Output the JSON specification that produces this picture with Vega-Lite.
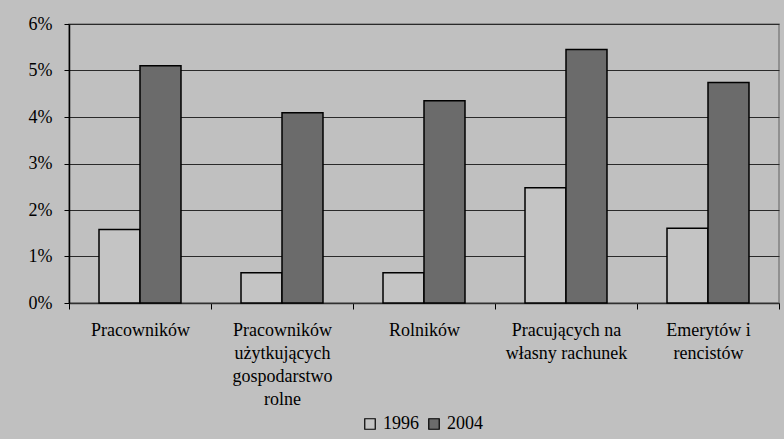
{
  "$schema": "https://vega.github.io/schema/vega-lite/v6.json",
  "width": 710,
  "height": 279,
  "autosize": {"type": "none"},
  "padding": {"left": 69, "top": 24, "right": 5, "bottom": 136},
  "background": "#c0c0c0",
  "data": {
    "values": [
      {"grupa": "Pracowników", "rok": "1996", "udzial": 0.0158},
      {"grupa": "Pracowników", "rok": "2004", "udzial": 0.0510},
      {"grupa": "Pracowników|użytkujących|gospodarstwo|rolne", "rok": "1996", "udzial": 0.0065},
      {"grupa": "Pracowników|użytkujących|gospodarstwo|rolne", "rok": "2004", "udzial": 0.0409},
      {"grupa": "Rolników", "rok": "1996", "udzial": 0.0065},
      {"grupa": "Rolników", "rok": "2004", "udzial": 0.0435},
      {"grupa": "Pracujących na|własny rachunek", "rok": "1996", "udzial": 0.0248},
      {"grupa": "Pracujących na|własny rachunek", "rok": "2004", "udzial": 0.0545},
      {"grupa": "Emerytów i|rencistów", "rok": "1996", "udzial": 0.0161},
      {"grupa": "Emerytów i|rencistów", "rok": "2004", "udzial": 0.0474}
    ]
  },
  "mark": {"type": "bar", "stroke": "black", "strokeWidth": 1.5},
  "encoding": {
    "x": {
      "field": "grupa",
      "type": "nominal",
      "sort": null,
      "scale": {"paddingInner": 0, "paddingOuter": 0},
      "axis": {
        "title": null,
        "labelAngle": 0,
        "labelExpr": "split(datum.label, '|')",
        "labelFontSize": 18,
        "labelColor": "black",
        "labelLineHeight": 23,
        "labelBaseline": "top",
        "labelPadding": 12,
        "labelLimit": 0,
        "tickBand": "extent",
        "tickSize": 6,
        "tickColor": "black",
        "domainColor": "#303030",
        "domainWidth": 1.5,
        "grid": false
      }
    },
    "xOffset": {
      "field": "rok",
      "type": "nominal",
      "scale": {"paddingInner": 0, "paddingOuter": 0.732}
    },
    "y": {
      "field": "udzial",
      "type": "quantitative",
      "scale": {"domain": [0, 0.06], "nice": false},
      "axis": {
        "title": null,
        "values": [0, 0.01, 0.02, 0.03, 0.04, 0.05, 0.06],
        "format": ".0%",
        "labelFontSize": 18,
        "labelColor": "black",
        "labelPadding": 12,
        "tickSize": 5,
        "tickColor": "black",
        "domainColor": "black",
        "domainWidth": 1.5,
        "grid": true,
        "gridColor": "#2a2a2a",
        "gridWidth": 1.2
      }
    },
    "color": {
      "field": "rok",
      "type": "nominal",
      "scale": {"domain": ["1996", "2004"], "range": ["#c4c4c4", "#6b6b6b"]},
      "legend": {
        "title": null,
        "orient": "none",
        "legendX": 292,
        "legendY": 391,
        "direction": "horizontal",
        "symbolType": "square",
        "symbolSize": 110,
        "symbolStrokeColor": "black",
        "symbolStrokeWidth": 1.2,
        "symbolOpacity": 1,
        "labelFontSize": 18,
        "labelColor": "black",
        "labelOffset": 4,
        "columnPadding": 6
      }
    }
  },
  "config": {
    "font": "Liberation Serif",
    "axis": {"labelFont": "Liberation Serif"},
    "legend": {"labelFont": "Liberation Serif"},
    "view": {"stroke": "#808080", "strokeWidth": 1.5}
  }
}
